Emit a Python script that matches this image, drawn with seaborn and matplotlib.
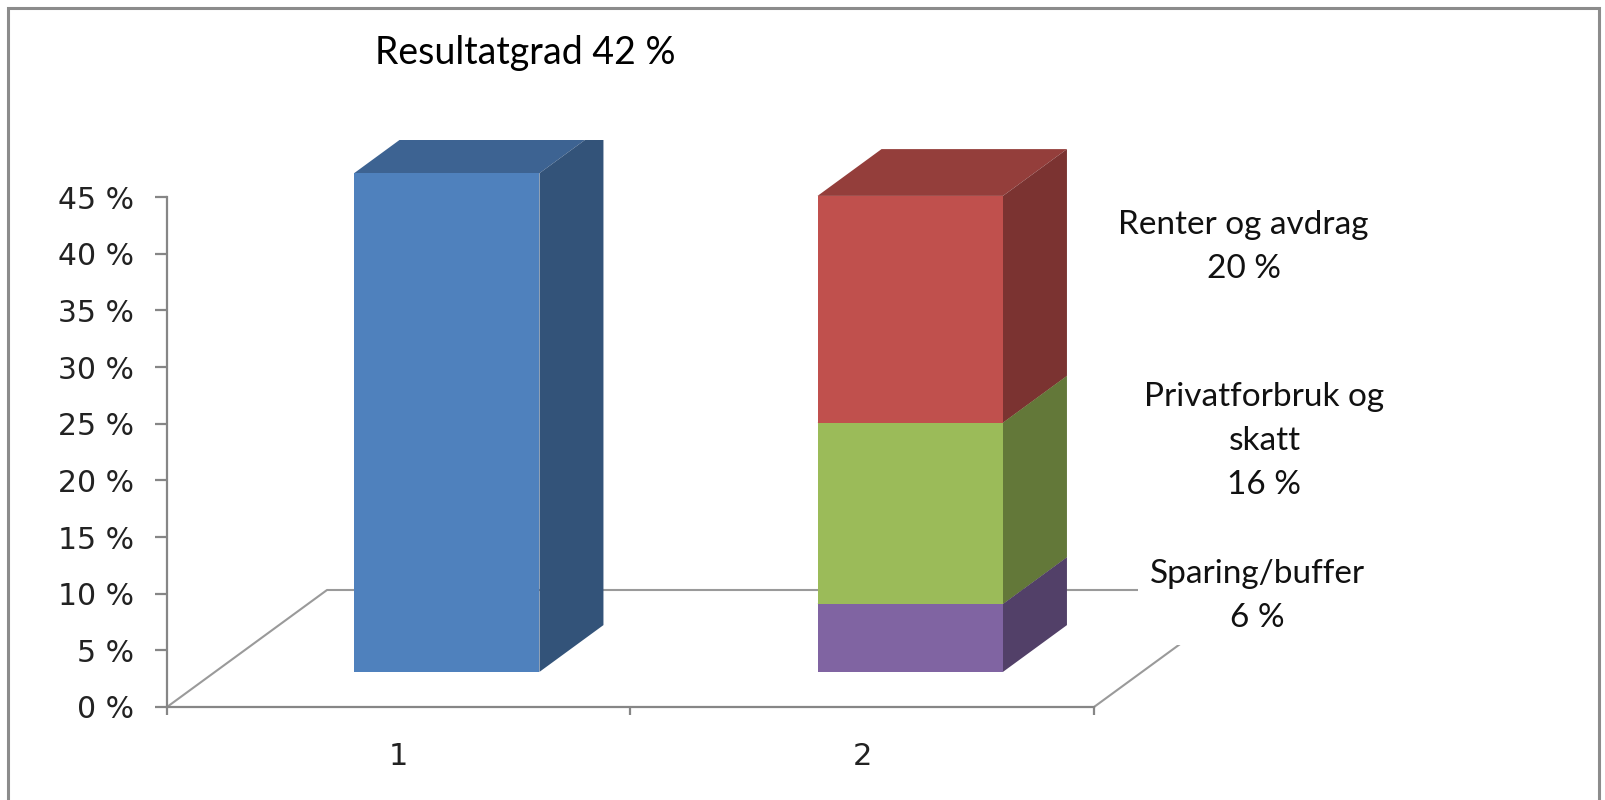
import numpy as np
import matplotlib
matplotlib.use("Agg")
import matplotlib.pyplot as plt
from matplotlib.patches import Polygon, Rectangle
from matplotlib.colors import to_rgb
from matplotlib.ticker import FuncFormatter
import seaborn as sns

# data
categories = ["1", "2"]
resultatgrad = [44]
bar1_color = "#4F81BD"
segment_names = ["Sparing/buffer", "Privatforbruk og\nskatt", "Renter og avdrag"]
segment_values = [6, 16, 20]
segment_colors = ["#8064A2", "#9BBB59", "#C0504D"]
y_ticks = list(range(0, 50, 5))
title = "Resultatgrad 42 %"

sns.set_style("white")
plt.rcParams["font.family"] = ["DejaVu Sans"]

W, H = 1606, 800
fig = plt.figure(figsize=(W / 100, H / 100), dpi=100)

# layout in pixels (Excel-like 3D look)
x_left, x_right = 167, 1094
y_zero, y_top = 707, 197
floor_dx, floor_dy = 160, 117
bar_depth = 0.4
clip_top = 140
px_cat = (x_right - x_left) / 2
px_pct = (y_zero - y_top) / 45
grey = "#868686"

# axis plane: y axis, category axis and the floor
ax = fig.add_axes([x_left / W, 1 - y_zero / H, (x_right - x_left) / W, (y_zero - y_top) / H])
ax.set_facecolor("none")
ax.set_xlim(-0.5, 1.5)
ax.set_ylim(0, 45)
ax.set_yticks(y_ticks)
ax.yaxis.set_major_formatter(FuncFormatter(lambda v, p: f"{v:.0f} %"))
ax.set_xticks([-0.5, 0.5, 1.5])
ax.set_xticklabels([])
ax.set_xticks([0, 1], minor=True)
ax.set_xticklabels(categories, minor=True)
for side in ["top", "right"]:
    ax.spines[side].set_visible(False)
for side in ["left", "bottom"]:
    ax.spines[side].set_color(grey)
    ax.spines[side].set_linewidth(1.6)
ax.tick_params(axis="y", which="major", direction="out", length=9, width=1.6,
               color=grey, pad=15, labelsize=21.5, labelcolor="#222222", left=True)
ax.tick_params(axis="x", which="major", direction="out", length=6, width=1.6,
               color=grey, bottom=True)
ax.tick_params(axis="x", which="minor", length=0, pad=25, labelsize=22,
               labelcolor="#222222")

fdx = floor_dx / px_cat
fdy = floor_dy / px_pct
ax.plot([-0.5, -0.5 + fdx, 1.5 + fdx, 1.5], [0, fdy, fdy, 0],
        color="#9a9a9a", lw=1.5, clip_on=False, zorder=1)

# bar plane: sits in the middle of the floor depth
f = (1 - bar_depth) / 2
bx = x_left + f * floor_dx
by = y_zero - f * floor_dy
axb = fig.add_axes([bx / W, 1 - by / H, (x_right - x_left) / W, (by - clip_top) / H])
axb.set_facecolor("none")
axb.axis("off")

sns.barplot(x=categories[:1], y=resultatgrad, order=categories, color=bar1_color,
            saturation=1, width=0.4, errorbar=None, linewidth=0, ax=axb)
bottoms = np.concatenate([[0], np.cumsum(segment_values)[:-1]])
for val, b, c in zip(segment_values, bottoms, segment_colors):
    sns.barplot(x=categories[1:], y=[val], bottom=b, order=categories, color=c,
                saturation=1, width=0.4, errorbar=None, linewidth=0, ax=axb)

axb.set_xlim(-0.5, 1.5)
axb.set_ylim(0, (by - clip_top) / px_pct)

# side and top faces from the seaborn bars
ddx = bar_depth * floor_dx / px_cat
ddy = bar_depth * floor_dy / px_pct
for p in list(axb.patches):
    x0, y0 = p.get_x(), p.get_y()
    w, h = p.get_width(), p.get_height()
    rgb = np.array(to_rgb(p.get_facecolor()))
    top = [(x0, y0 + h), (x0 + ddx, y0 + h + ddy), (x0 + w + ddx, y0 + h + ddy), (x0 + w, y0 + h)]
    side = [(x0 + w, y0), (x0 + w + ddx, y0 + ddy), (x0 + w + ddx, y0 + h + ddy), (x0 + w, y0 + h)]
    axb.add_patch(Polygon(top, closed=True, facecolor=rgb * 0.77, lw=0, zorder=0.9))
    axb.add_patch(Polygon(side, closed=True, facecolor=rgb * 0.64, lw=0, zorder=0.9))

# data labels next to the stacked bar
label_offsets = [(250, 30), (255, 52), (240, 45)]
for name, val, b, off in zip(segment_names, segment_values, bottoms, label_offsets):
    axb.annotate(f"{name}\n{val} %", xy=(1, b + val / 2), xytext=off,
                 textcoords="offset points", ha="center", va="center",
                 fontsize=24, family=["Lato", "DejaVu Sans"], color="#111111",
                 linespacing=1.58, annotation_clip=False,
                 bbox=dict(boxstyle="square,pad=0.35", fc="white", ec="none"))

fig.text(513 / W * 1.024, 1 - 53 / H, title, ha="center", va="center", fontsize=27,
         family=["Lato", "DejaVu Sans"], color="#000000")

# outer chart frame
fig.patches.append(Rectangle((8 / W, -0.1), (1599 - 8) / W, 1.1 - 8 / H,
                             transform=fig.transFigure, fill=False,
                             edgecolor="#8c8c8c", lw=2.2))

fig.savefig("out.png", dpi=100)
